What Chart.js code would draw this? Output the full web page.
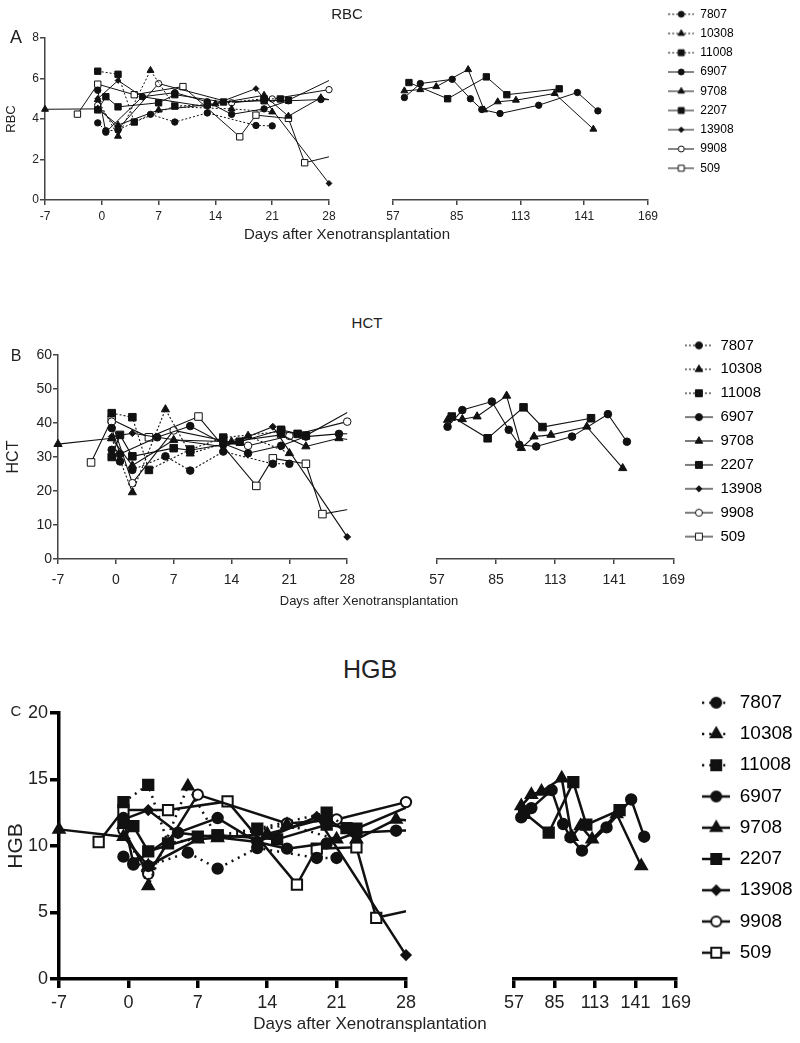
<!DOCTYPE html>
<html>
<head>
<meta charset="utf-8">
<script src="https://cdn.jsdelivr.net/npm/chart.js@4.4.1/dist/chart.umd.min.js"></script>
<style>
  body { margin: 0; background: #fff; }
  #page { position: relative; width: 800px; height: 1043px; overflow: hidden; background: #fff;
          font-family: "Liberation Sans", Arial, Helvetica, sans-serif; color: #222; }
  #page canvas { position: absolute; }
  .lbl { position: absolute; transform: translate(-50%, -50%); white-space: nowrap; line-height: 1; }
</style>
</head>
<body>
<div id="page"></div>
<script>
  var names = ['7807', '10308', '11008', '6907', '9708', '2207', '13908', '9908', '509'];
  var lateNames = ['6907', '9708', '2207'];

  var leftTicks = [-7, 0, 7, 14, 21, 28];
  var rightTicks = [57, 85, 113, 141, 169];
  var rbcTicks = [0, 2, 4, 6, 8];
  var hctTicks = [0, 10, 20, 30, 40, 50, 60];
  var hgbTicks = [0, 5, 10, 15, 20];

  // sampling days (points past 28 are off the first axis segment, only their line shows)
  var days7807 = [-0.5, 0.5, 2, 6, 9, 13, 19, 21];
  var days10308 = [-0.5, 2, 6, 9, 16, 21];
  var days11008 = [-0.5, 2, 4, 9, 13, 20, 22];
  var days6907 = [-0.5, 0.5, 5, 9, 13, 16, 20, 23, 27, 35];
  var days9708 = [-7, -0.5, 2, 7, 14, 20, 23, 27, 35];
  var days2207 = [-0.5, 0.5, 2, 7, 9, 15, 20, 23, 35];
  var days13908 = [-0.5, 2, 5, 13, 19, 28];
  var days9908 = [-0.5, 2, 7, 16, 21, 28];
  var days509 = [-3, -0.5, 4, 10, 17, 19, 23, 25, 33];
  var late6907 = [62, 69, 83, 91, 96, 104, 121, 138, 147];
  var late9708 = [62, 69, 76, 90, 97, 103, 111, 128, 145];
  var late2207 = [64, 81, 98, 107, 130];

  // RBC
  var rbc7807 = [3.81, 3.42, 3.45, 4.23, 3.85, 4.3, 3.68, 3.66];
  var rbc10308 = [4.96, 3.15, 6.4, 4.6, 4.5, 4.35];
  var rbc11008 = [6.36, 6.21, 3.85, 4.64, 4.7, 5.0, 4.99];
  var rbc6907 = [5.42, 3.35, 5.1, 5.3, 4.85, 4.23, 4.5, 4.9, 4.96, 4.9];
  var rbc9708 = [4.48, 4.5, 3.7, 4.44, 4.75, 5.17, 4.14, 5.05, 4.3];
  var rbc2207 = [4.45, 5.1, 4.6, 4.8, 5.2, 4.84, 4.9, 4.93, 7.26];
  var rbc13908 = [5.0, 5.9, 5.1, 4.6, 5.5, 0.82];
  var rbc9908 = [4.68, 3.5, 5.75, 4.8, 4.99, 5.45];
  var rbc509 = [4.24, 5.72, 5.2, 5.6, 3.12, 4.19, 4.03, 1.84, 2.62];
  var rbcLate6907 = [5.06, 5.75, 5.96, 5.0, 4.47, 4.27, 4.68, 5.31, 4.4];
  var rbcLate9708 = [5.39, 5.45, 5.6, 6.44, 4.45, 4.85, 4.93, 5.26, 3.5];
  var rbcLate2207 = [5.8, 5.0, 6.08, 5.2, 5.49];

  // HCT
  var hct7807 = [32.1, 28.7, 26.2, 30.2, 26.0, 31.6, 28.0, 28.0];
  var hct10308 = [35.5, 19.6, 44.0, 31.0, 36.2, 31.1];
  var hct11008 = [42.9, 41.7, 26.2, 32.2, 35.7, 37.5, 36.8];
  var hct6907 = [38.5, 30.9, 35.8, 39.1, 34.0, 31.1, 33.3, 36.0, 36.8, 37.0];
  var hct9708 = [33.8, 35.5, 27.5, 35.0, 34.5, 36.5, 33.1, 35.5, 33.0];
  var hct2207 = [30.0, 36.5, 30.2, 32.6, 32.0, 34.5, 38.0, 36.3, 52.6];
  var hct13908 = [36.0, 37.0, 35.8, 33.0, 38.9, 6.5];
  var hct9908 = [40.4, 22.3, 37.8, 33.3, 36.2, 40.4];
  var hct509 = [28.4, 41.0, 35.8, 41.9, 21.5, 29.6, 28.0, 13.2, 16.7];
  var hctLate6907 = [38.9, 43.8, 46.3, 38.0, 33.6, 33.1, 36.0, 42.6, 34.5];
  var hctLate9708 = [40.9, 41.1, 41.9, 48.0, 32.6, 36.0, 36.5, 38.9, 26.7];
  var hctLate2207 = [41.9, 35.5, 44.6, 38.8, 41.4];

  // HGB
  var hgb7807 = [9.2, 8.6, 8.5, 9.5, 8.3, 9.85, 9.1, 9.1];
  var hgb10308 = [11.6, 7.0, 14.5, 10.6, 11.6, 10.5];
  var hgb11008 = [13.3, 14.6, 10.2, 10.8, 11.3, 12.5, 11.35];
  var hgb6907 = [12.1, 8.7, 11.0, 12.1, 10.3, 9.8, 10.2, 11.0, 11.15, 11.3];
  var hgb9708 = [11.25, 10.7, 8.5, 10.5, 10.9, 12.1, 10.5, 12.0, 11.5];
  var hgb2207 = [11.8, 11.5, 9.6, 10.7, 10.8, 10.5, 11.6, 11.3, 15.1];
  var hgb13908 = [12.0, 12.7, 11.0, 10.3, 12.2, 1.8];
  var hgb9908 = [11.2, 7.9, 13.86, 11.7, 12.0, 13.3];
  var hgb509 = [10.3, 12.7, 12.7, 13.35, 7.1, 9.8, 9.9, 4.6, 5.93];
  var hgbLate6907 = [12.15, 12.85, 14.2, 11.65, 10.65, 9.65, 11.4, 13.5, 10.7];
  var hgbLate9708 = [13.0, 13.86, 14.1, 15.1, 10.7, 11.5, 10.5, 12.4, 8.5];
  var hgbLate2207 = [12.5, 11.0, 14.8, 11.6, 12.7];

  var earlyDays = { '7807': days7807, '10308': days10308, '11008': days11008, '6907': days6907, '9708': days9708,
                    '2207': days2207, '13908': days13908, '9908': days9908, '509': days509 };
  var lateDays = { '6907': late6907, '9708': late9708, '2207': late2207 };

  var seriesStyle = {
    '7807':  { shape: 'circle',   dotted: true,  open: false },
    '10308': { shape: 'triangle', dotted: true,  open: false },
    '11008': { shape: 'rect',     dotted: true,  open: false },
    '6907':  { shape: 'circle',   dotted: false, open: false },
    '9708':  { shape: 'triangle', dotted: false, open: false },
    '2207':  { shape: 'rect',     dotted: false, open: false },
    '13908': { shape: 'rectRot',  dotted: false, open: false },
    '9908':  { shape: 'circle',   dotted: false, open: true },
    '509':   { shape: 'rect',     dotted: false, open: true }
  };
  var shapeScale = { circle: 1, triangle: 1.25, rect: 1.4, rectRot: 0.9 };

  var FAMILY = '"Liberation Sans", Arial, Helvetica, sans-serif';
  var PADT = 14, PADR = 14;
  Chart.defaults.font.family = FAMILY;
  Chart.defaults.color = '#222';

  var panels = [
    { letter: 'A', title: 'RBC', yMax: 8, yTicks: rbcTicks,
      values: { '7807': rbc7807, '10308': rbc10308, '11008': rbc11008, '6907': rbc6907, '9708': rbc9708,
                '2207': rbc2207, '13908': rbc13908, '9908': rbc9908, '509': rbc509 },
      late: { '6907': rbcLate6907, '9708': rbcLate9708, '2207': rbcLate2207 },
      left: 45, mid: 329, r0: 348, r1: 648, top: 38, bottom: 200,
      axisColor: '#444', axisW: 1.5, tick: 5, xPad: 4, yPad: 1, xAxisH: 30, tickFont: 12, yTitleFont: 13,
      line: 1, dash: [2, 2], marker: 3.2, pointLine: 1,
      legFont: 12, legPad: 7.25, legLeft: 661, legTop: 1, legW: 26, legH: 12, legR: 3, legHgt: 200,
      letterPos: [16, 37, 18], titlePos: [347, 13, 15], xTitlePos: [347, 233, 15] },
    { letter: 'B', title: 'HCT', yMax: 60, yTicks: hctTicks,
      values: { '7807': hct7807, '10308': hct10308, '11008': hct11008, '6907': hct6907, '9708': hct9708,
                '2207': hct2207, '13908': hct13908, '9908': hct9908, '509': hct509 },
      late: { '6907': hctLate6907, '9708': hctLate9708, '2207': hctLate2207 },
      left: 58, mid: 349, r0: 379, r1: 679, top: 355, bottom: 559,
      axisColor: '#444', axisW: 1.5, tick: 5, xPad: 8, yPad: 1, xAxisH: 36, tickFont: 14, yTitleFont: 16,
      line: 1.1, dash: [2, 2], marker: 3.8, pointLine: 1,
      legFont: 15, legPad: 8.9, legLeft: 676, legTop: 329, legW: 28, legH: 14, legR: 3.5, legHgt: 240,
      letterPos: [16, 356, 16], titlePos: [367, 322, 15], xTitlePos: [369, 600, 13] },
    { letter: 'C', title: 'HGB', yMax: 20, yTicks: hgbTicks,
      values: { '7807': hgb7807, '10308': hgb10308, '11008': hgb11008, '6907': hgb6907, '9708': hgb9708,
                '2207': hgb2207, '13908': hgb13908, '9908': hgb9908, '509': hgb509 },
      late: { '6907': hgbLate6907, '9708': hgbLate9708, '2207': hgbLate2207 },
      left: 59, mid: 406, r0: 455, r1: 681, top: 713, bottom: 979,
      axisColor: '#000', axisW: 3.5, tick: 9, xPad: 4, yPad: 2, xAxisH: 40, tickFont: 18, yTitleFont: 21,
      line: 2.5, dash: [2, 5], marker: 5.2, pointLine: 2,
      legFont: 19, legPad: 12.25, legLeft: 690, legTop: 681, legW: 28, legH: 18, legR: 5, legHgt: 320,
      letterPos: [16, 710, 15], titlePos: [370, 669, 25], xTitlePos: [370, 1023, 17] }
  ];

  var page = document.getElementById('page');

  function addCanvas(x, y, w, h) {
    var c = document.createElement('canvas');
    c.width = Math.round(w);
    c.height = Math.round(h);
    c.style.left = x + 'px';
    c.style.top = y + 'px';
    page.appendChild(c);
    return c;
  }

  function label(text, pos) {
    var d = document.createElement('div');
    d.className = 'lbl';
    d.textContent = text;
    d.style.left = pos[0] + 'px';
    d.style.top = pos[1] + 'px';
    d.style.fontSize = pos[2] + 'px';
    page.appendChild(d);
  }

  function pts(days, vals) {
    return days.map(function (d, i) { return { x: d, y: vals[i] }; });
  }

  function dataset(name, data, p, exits) {
    var s = seriesStyle[name];
    var r = p.marker * shapeScale[s.shape];
    return {
      label: name,
      data: data,
      borderColor: '#111',
      borderWidth: p.line,
      borderDash: s.dotted ? p.dash : [],
      pointStyle: s.shape,
      pointRadius: r,
      pointHoverRadius: r,
      pointBackgroundColor: s.open ? '#fff' : '#111',
      pointBorderColor: '#111',
      pointBorderWidth: p.pointLine,
      clip: exits ? { left: 14, top: 14, right: 0, bottom: 14 } : 14,
      fill: false,
      tension: 0
    };
  }

  function makeChart(canvas, datasets, xTicks, p, withY) {
    return new Chart(canvas, {
      type: 'line',
      data: { datasets: datasets },
      options: {
        animation: false,
        responsive: false,
        devicePixelRatio: 1,
        events: [],
        layout: { padding: { left: withY ? 0 : PADR, right: PADR, top: PADT, bottom: 0 } },
        plugins: { legend: { display: false }, tooltip: { enabled: false } },
        scales: {
          x: {
            type: 'linear',
            min: xTicks[0],
            max: xTicks[xTicks.length - 1],
            afterBuildTicks: function (s) { s.ticks = xTicks.map(function (v) { return { value: v }; }); },
            afterFit: function (s) { s.height = p.xAxisH; },
            grid: { drawOnChartArea: false, drawTicks: true, tickLength: p.tick, color: p.axisColor, lineWidth: p.axisW },
            border: { display: true, color: p.axisColor, width: p.axisW },
            ticks: { color: '#222', font: { size: p.tickFont }, padding: p.xPad, maxRotation: 0, autoSkip: false }
          },
          y: {
            display: withY,
            min: 0,
            max: p.yMax,
            afterBuildTicks: function (s) { s.ticks = p.yTicks.map(function (v) { return { value: v }; }); },
            afterFit: function (s) { s.width = p.left; },
            grid: { drawOnChartArea: false, drawTicks: true, tickLength: p.tick, color: p.axisColor, lineWidth: p.axisW },
            border: { display: true, color: p.axisColor, width: p.axisW },
            ticks: { color: '#222', font: { size: p.tickFont }, padding: p.yPad },
            title: { display: true, text: p.title, color: '#222', font: { size: p.yTitleFont }, padding: { top: 4, bottom: 4 } }
          }
        }
      }
    });
  }

  function drawMark(ctx, shape, x, y, r) {
    ctx.beginPath();
    if (shape === 'circle') {
      ctx.arc(x, y, r, 0, Math.PI * 2);
    } else if (shape === 'rect') {
      var s = r * Math.SQRT1_2;
      ctx.rect(x - s, y - s, 2 * s, 2 * s);
    } else if (shape === 'triangle') {
      for (var k = 0; k < 3; k++) {
        var a = k * 2 * Math.PI / 3;
        if (k === 0) ctx.moveTo(x + Math.sin(a) * r, y - Math.cos(a) * r);
        else ctx.lineTo(x + Math.sin(a) * r, y - Math.cos(a) * r);
      }
      ctx.closePath();
    } else {
      ctx.moveTo(x - r, y); ctx.lineTo(x, y - r); ctx.lineTo(x + r, y); ctx.lineTo(x, y + r);
      ctx.closePath();
    }
    ctx.fill();
    ctx.stroke();
  }

  function legendIcon(name, p) {
    var s = seriesStyle[name];
    var c = document.createElement('canvas');
    c.width = p.legW;
    c.height = p.legH;
    var ctx = c.getContext('2d');
    ctx.strokeStyle = '#111';
    ctx.lineWidth = p.line;
    ctx.setLineDash(s.dotted ? p.dash : []);
    ctx.beginPath();
    ctx.moveTo(0, c.height / 2);
    ctx.lineTo(c.width, c.height / 2);
    ctx.stroke();
    ctx.setLineDash([]);
    ctx.lineWidth = p.pointLine;
    ctx.fillStyle = s.open ? '#fff' : '#111';
    drawMark(ctx, s.shape, c.width / 2, c.height / 2, p.legR * shapeScale[s.shape]);
    return c;
  }

  function makeLegend(canvas, p) {
    return new Chart(canvas, {
      type: 'line',
      data: { datasets: [] },
      options: {
        animation: false,
        responsive: false,
        devicePixelRatio: 1,
        events: [],
        layout: { padding: 0 },
        scales: { x: { display: false }, y: { display: false } },
        plugins: {
          tooltip: { enabled: false },
          legend: {
            position: 'left',
            align: 'start',
            labels: {
              usePointStyle: true,
              pointStyleWidth: p.legW,
              padding: p.legPad,
              color: '#222',
              font: { size: p.legFont },
              generateLabels: function () {
                return names.map(function (n) {
                  return { text: n, pointStyle: legendIcon(n, p), hidden: false, lineWidth: 0,
                           strokeStyle: 'rgba(0,0,0,0)', fillStyle: 'rgba(0,0,0,0)' };
                });
              }
            }
          }
        }
      }
    });
  }

  panels.forEach(function (p) {
    var leftSets = names.map(function (n) {
      var days = earlyDays[n];
      return dataset(n, pts(days, p.values[n]), p, days[days.length - 1] > 28);
    });
    var rightSets = lateNames.map(function (n) {
      return dataset(n, pts(lateDays[n], p.late[n]), p, false);
    });
    var h = PADT + (p.bottom - p.top) + p.xAxisH;
    makeChart(addCanvas(0, p.top - PADT, p.mid + PADR, h), leftSets, leftTicks, p, true);
    makeChart(addCanvas(p.r0 - PADR, p.top - PADT, p.r1 - p.r0 + 2 * PADR, h), rightSets, rightTicks, p, false);
    makeLegend(addCanvas(p.legLeft, p.legTop, 220, p.legHgt), p);

    label(p.letter, p.letterPos);
    label(p.title, p.titlePos);
    label('Days after Xenotransplantation', p.xTitlePos);
  });
</script>
</body>
</html>
